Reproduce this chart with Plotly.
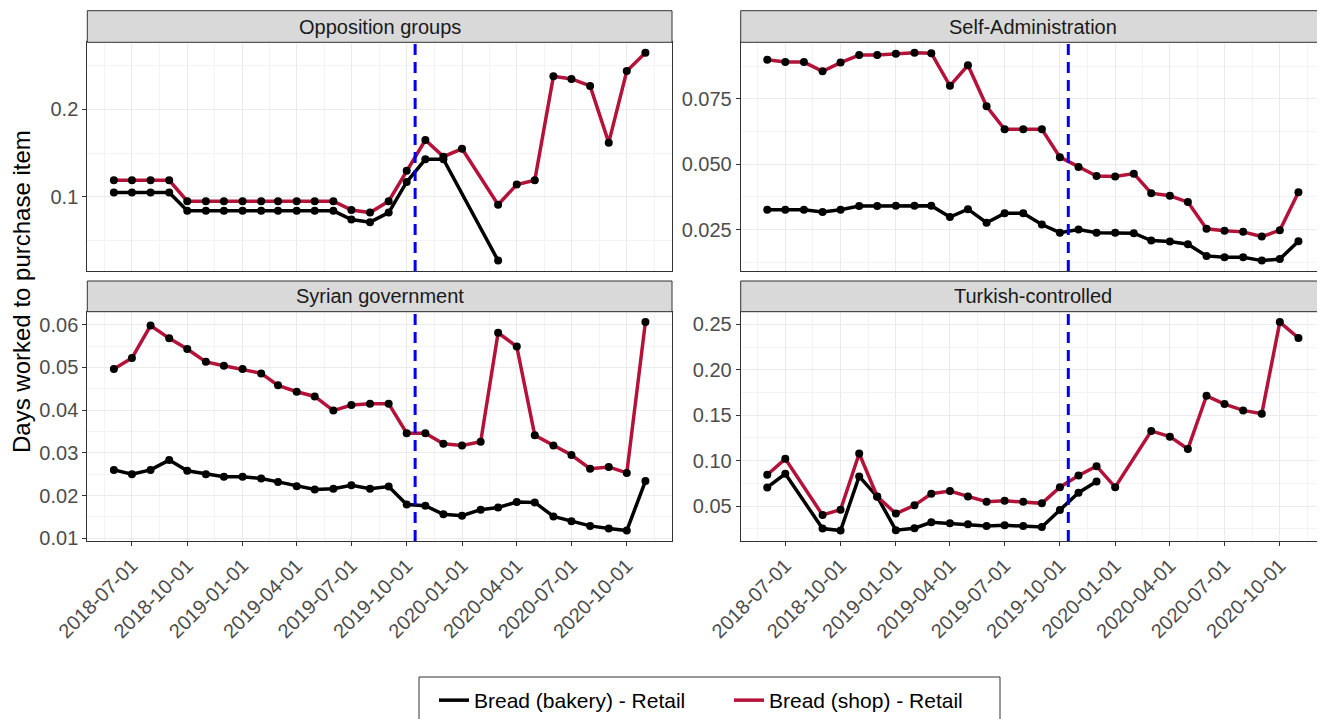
import pandas as pd
import numpy as np
import plotly.graph_objects as go

# ---------------- data ----------------
months = pd.date_range("2018-06-01", "2020-11-01", freq="MS")
event_date = pd.Timestamp("2019-10-15")

series_names = ["Bread (bakery) - Retail", "Bread (shop) - Retail"]
series_colors = ["#000000", "#B5123A"]

panel_titles = ["Opposition groups", "Self-Administration", "Syrian government", "Turkish-controlled"]

opp_bakery = [0.105, 0.105, 0.105, 0.105, 0.084, 0.084, 0.084, 0.084, 0.084, 0.084,
              0.084, 0.084, 0.084, 0.074, 0.071, 0.082, 0.117, 0.143, 0.143, None,
              None, 0.027, None, None, None, None, None, None, None, None]
opp_shop = [0.119, 0.119, 0.119, 0.119, 0.095, 0.095, 0.095, 0.095, 0.095, 0.095,
            0.095, 0.095, 0.095, 0.085, 0.082, 0.095, 0.130, 0.165, 0.146, 0.155,
            None, 0.091, 0.114, 0.119, 0.238, 0.235, 0.227, 0.162, 0.244, 0.265]

sa_bakery = [0.0326, 0.0326, 0.0326, 0.0317, 0.0326, 0.0340, 0.0340, 0.0341, 0.0341, 0.0341,
             0.0298, 0.0328, 0.0276, 0.0312, 0.0312, 0.0269, 0.0238, 0.0250, 0.0238, 0.0238,
             0.0236, 0.0208, 0.0204, 0.0194, 0.0149, 0.0144, 0.0144, 0.0131, 0.0137, 0.0205]
sa_shop = [0.0900, 0.0891, 0.0891, 0.0856, 0.0889, 0.0918, 0.0918, 0.0923, 0.0927, 0.0925,
           0.0800, 0.0879, 0.0722, 0.0634, 0.0634, 0.0634, 0.0527, 0.0489, 0.0455, 0.0453,
           0.0464, 0.0389, 0.0379, 0.0355, 0.0253, 0.0245, 0.0241, 0.0223, 0.0247, 0.0393]

syr_bakery = [0.0260, 0.0250, 0.0260, 0.0283, 0.0258, 0.0250, 0.0244, 0.0244, 0.0240, 0.0232,
              0.0222, 0.0214, 0.0216, 0.0224, 0.0216, 0.0221, 0.0179, 0.0176, 0.0156, 0.0153,
              0.0167, 0.0172, 0.0185, 0.0184, 0.0151, 0.0140, 0.0129, 0.0123, 0.0118, 0.0234]
syr_shop = [0.0496, 0.0522, 0.0598, 0.0568, 0.0543, 0.0513, 0.0504, 0.0496, 0.0486, 0.0458,
            0.0443, 0.0432, 0.0399, 0.0412, 0.0415, 0.0415, 0.0346, 0.0346, 0.0321, 0.0317,
            0.0326, 0.0581, 0.0549, 0.0341, 0.0317, 0.0295, 0.0263, 0.0267, 0.0253, 0.0606]

tur_bakery = [0.0705, 0.0855, None, 0.0252, 0.0230, 0.0826, 0.0603, 0.0234, 0.0256, 0.0321,
              0.0310, 0.0299, 0.0281, 0.0288, 0.0281, 0.0270, 0.0456, 0.0647, 0.0771, None,
              None, None, None, None, None, None, None, None, None, None]
tur_shop = [0.0844, 0.1020, None, 0.0401, 0.0460, 0.1078, 0.0606, 0.0417, 0.0508, 0.0636,
            0.0665, 0.0606, 0.0548, 0.0559, 0.0548, 0.0530, 0.0708, 0.0837, 0.0939, 0.0708,
            None, 0.1327, 0.1264, 0.1129, 0.1714, 0.1623, 0.1553, 0.1517, 0.2525, 0.2350]

panel_series = [(opp_bakery, opp_shop), (sa_bakery, sa_shop),
                (syr_bakery, syr_shop), (tur_bakery, tur_shop)]
y_dticks = [0.1, 0.025, 0.01, 0.05]
y_formats = [".1f", ".3f", ".2f", ".2f"]

# ---------------- layout geometry (screen pixels) ----------------
SCREEN_W, SCREEN_H = 1325, 719
OFF = 8  # default page body margin
W, H = SCREEN_W - OFF, SCREEN_H - OFF


def fx(x):
    return (x - OFF) / W


def fy(y):
    return 1 - (y - OFF) / H


col_x = [(87.3, 672.0), (740.7, 1325.0)]
row_strip = [(10.7, 42.3), (281.0, 311.7)]
row_plot = [(42.3, 271.0), (311.7, 541.0)]

FONT = "Liberation Sans, Arial, sans-serif"
GRID = "#EBEBEB"
MINOR = "#F3F3F3"
BORDER = "#333333"

fig = go.Figure()

# x range with ggplot-like 5% expansion
span = months[-1] - months[0]
x_lo = months[0] - span * 0.05
x_hi = months[-1] + span * 0.05
major_x = pd.date_range("2018-04-01", "2021-01-01", freq="QS")
minor_x = [major_x[i] + (major_x[i + 1] - major_x[i]) / 2 for i in range(len(major_x) - 1)]

shapes = []
annotations = []

for i, (title, (bak, shop)) in enumerate(zip(panel_titles, panel_series)):
    r, c = divmod(i, 2)
    ax = "" if i == 0 else str(i + 1)
    xref, yref = "x" + ax, "y" + ax

    # lines first
    for k, vals in enumerate((bak, shop)):
        fig.add_trace(go.Scatter(
            x=months, y=vals, mode="lines", connectgaps=True,
            line=dict(color=series_colors[k], width=3.5),
            name=series_names[k], legendgroup=series_names[k],
            showlegend=(i == 0), xaxis=xref, yaxis=yref, hoverinfo="skip"))
    # points on top
    for k, vals in enumerate((bak, shop)):
        fig.add_trace(go.Scatter(
            x=months, y=vals, mode="markers",
            marker=dict(color="black", size=8),
            showlegend=False, xaxis=xref, yaxis=yref))

    allv = [v for v in list(bak) + list(shop) if v is not None]
    lo, hi = min(allv), max(allv)
    pad = (hi - lo) * 0.05
    x0, x1 = col_x[c]
    py0, py1 = row_plot[r]
    sy0, sy1 = row_strip[r]

    dt = y_dticks[i]
    fig.layout["xaxis" + ax] = dict(
        domain=[fx(x0), min(1.0, fx(x1))], anchor=yref, range=[x_lo, x_hi], automargin=False,
        type="date", tickmode="array", tickvals=list(major_x),
        ticktext=[d.strftime("%Y-%m-%d") for d in major_x],
        showticklabels=(r == 1), ticks="outside" if r == 1 else "",
        ticklen=4, tickwidth=1, tickcolor=BORDER, tickangle=-45,
        tickfont=dict(family=FONT, size=20, color="#4D4D4D"),
        showgrid=True, gridcolor=GRID, gridwidth=1.2,
        minor=dict(tickmode="array", tickvals=minor_x, showgrid=True,
                   gridcolor=MINOR, gridwidth=0.8, ticks=""),
        showline=True, mirror=True, linecolor=BORDER, linewidth=1,
        zeroline=False)
    fig.layout["yaxis" + ax] = dict(
        domain=[fy(py1), fy(py0)], anchor=xref, automargin=False,
        range=[lo - pad, hi + pad], dtick=dt, tick0=0, tickformat=y_formats[i],
        ticks="outside", ticklen=4, tickwidth=1, tickcolor=BORDER,
        tickfont=dict(family=FONT, size=20, color="#4D4D4D"),
        showgrid=True, gridcolor=GRID, gridwidth=1.2,
        minor=dict(dtick=dt / 2, tick0=0, showgrid=True, gridcolor=MINOR,
                   gridwidth=0.8, ticks=""),
        showline=True, mirror=True, linecolor=BORDER, linewidth=1,
        zeroline=False)

    # event line
    shapes.append(dict(type="line", xref=xref, yref=yref + " domain",
                       x0=event_date, x1=event_date, y0=0, y1=1,
                       line=dict(color="#0000EE", width=3, dash="11px,7px")))
    # strip
    shapes.append(dict(type="rect", xref="paper", yref="paper",
                       x0=fx(x0), x1=min(1.0, fx(x1)), y0=fy(sy1), y1=fy(sy0),
                       fillcolor="#D9D9D9", line=dict(color=BORDER, width=1),
                       layer="above"))
    annotations.append(dict(text=title, xref="paper", yref="paper",
                            x=fx((x0 + x1) / 2), y=fy((sy0 + sy1) / 2),
                            showarrow=False, xanchor="center", yanchor="middle",
                            font=dict(family=FONT, size=20, color="#1A1A1A")))

annotations.append(dict(text="Days worked to purchase item", xref="paper", yref="paper",
                        x=fx(22), y=fy(292), textangle=-90, showarrow=False,
                        xanchor="center", yanchor="middle",
                        font=dict(family=FONT, size=24, color="black")))

# legend frame (drawn as a box, entries placed inside by the legend)
shapes.append(dict(type="rect", xref="paper", yref="paper",
                   x0=fx(419), x1=fx(1000), y0=fy(725), y1=fy(677),
                   fillcolor="rgba(0,0,0,0)", line=dict(color="#333333", width=1),
                   layer="above"))

fig.update_layout(
    width=W, height=H, autosize=False,
    margin=dict(l=0, r=0, t=0, b=0, autoexpand=False),
    paper_bgcolor="white", plot_bgcolor="white",
    shapes=shapes, annotations=annotations,
    showlegend=True,
    legend=dict(orientation="h", x=fx(434), xanchor="left", y=fy(680), yanchor="top",
                borderwidth=0, bgcolor="rgba(0,0,0,0)",
                font=dict(family=FONT, size=21, color="black"),
                itemwidth=30, tracegroupgap=0, entrywidth=250),
)

fig.write_html("out.html")
